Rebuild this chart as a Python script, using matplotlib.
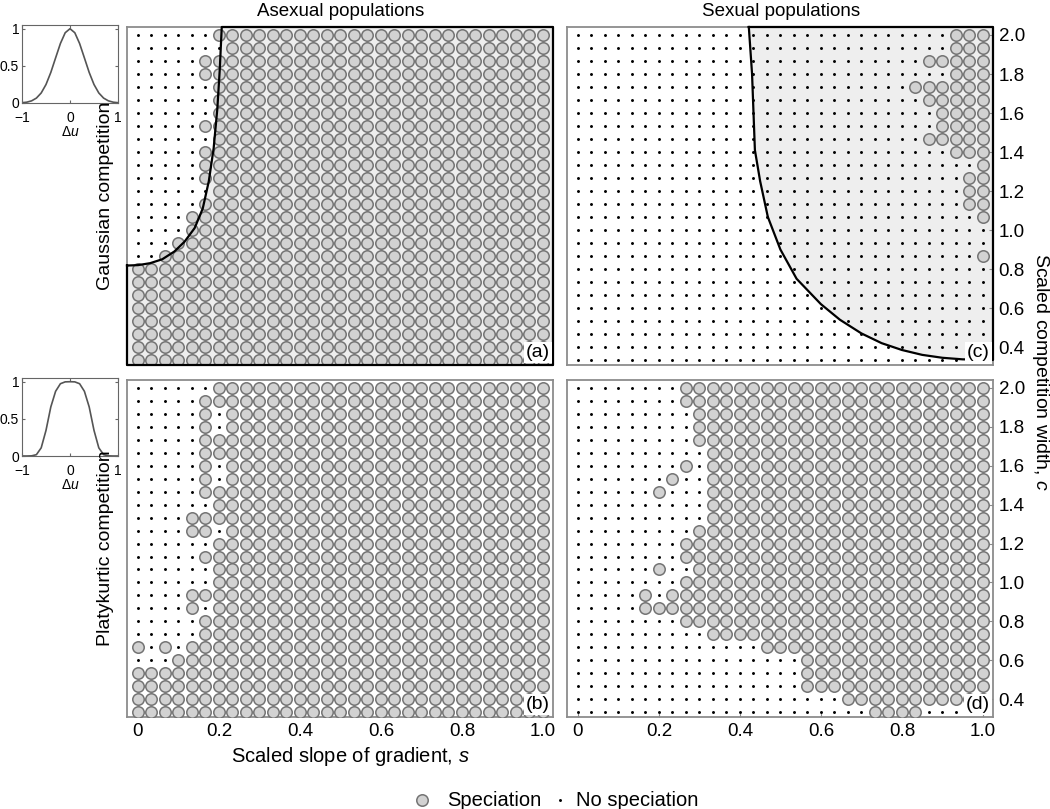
import numpy as np
import matplotlib
matplotlib.use("Agg")
import matplotlib.pyplot as plt
from matplotlib.patches import Polygon

plt.rcParams['font.family'] = ['Liberation Sans', 'DejaVu Sans']
plt.rcParams['mathtext.fontset'] = 'custom'
plt.rcParams['mathtext.it'] = 'Liberation Sans:italic'
plt.rcParams['mathtext.rm'] = 'Liberation Sans'

# ---------------- data ----------------
s_grid = np.linspace(0.0, 1.0, 31)                 # scaled slope of gradient
c_grid = np.round(2.0 - np.arange(26) / 15.0, 4)   # scaled competition width (top row first)

O, D = "o", "."
panel_a = [
    D*6 + O*25, D*7 + O*24, D*5 + O*26, D*5 + O*26, D*6 + O*25, D*6 + O*25,
    D*6 + O*25, D*5 + O*26, D*6 + O*25, D*5 + O*26, D*5 + O*26, D*5 + O*26,
    D*6 + O*25, D*5 + O*26, D*4 + O*27, D*4 + O*27, D*3 + O*28, D*2 + O*29,
    O*31, O*31, O*31, O*31, O*31, O*31, O*31, O*31,
]
panel_b = [
    D*6 + O*25, D*5 + O*26, D*5 + "o." + O*24, D*5 + "o." + O*24, D*5 + O*26, D*5 + O*26,
    D*5 + "o." + O*24, D*5 + "o." + O*24, D*5 + O*26, D*6 + O*25, D*4 + O*27, D*4 + "oo." + O*24,
    D*6 + O*25, D*5 + O*26, D*6 + O*25, D*6 + O*25, D*4 + O*27, D*4 + "o." + O*25,
    D*5 + O*26, D*5 + O*26, "o.o." + O*27, D*3 + O*28, O*31, O*31, O*31, O*31,
]
panel_c = [
    D*28 + O*3, D*28 + O*3, D*26 + O*5, D*28 + O*3, D*25 + O*6, D*26 + O*5,
    D*27 + O*4, D*27 + O*4, D*26 + O*5, D*28 + O*3, D*30 + O, D*29 + O*2,
    D*29 + O*2, D*29 + O*2, D*30 + O, D*31, D*31, D*30 + O,
    D*31, D*31, D*31, D*31, D*31, D*31, D*31, D*31,
]
panel_d = [
    D*8 + O*23, D*8 + O*23, D*9 + O*22, D*9 + O*22, D*9 + O*22, D*10 + O*21,
    D*8 + "o." + O*21, D*7 + "o.." + O*21, D*6 + "o..." + O*21, D*10 + O*21, D*10 + O*21, D*9 + O*22,
    D*8 + O*23, D*8 + O*23, D*6 + "o.." + O*22, D*8 + O*23, D*5 + "o." + O*24, D*5 + O*26,
    D*8 + O*23, D*10 + O*21, D*14 + O*17, D*17 + O*14, D*17 + O*14, D*17 + O*14, D*20 + O*11, D*22 + O*4 + D*5,
]

# analytical thresholds: (s, c)
asex_curve_s = [-0.027, 0.0, 0.03, 0.06, 0.09, 0.115, 0.14, 0.16, 0.175, 0.187, 0.196, 0.202, 0.207]
asex_curve_c = [0.818, 0.82, 0.83, 0.85, 0.89, 0.94, 1.01, 1.11, 1.25, 1.42, 1.62, 1.82, 2.041]
sex_curve_s = [0.422, 0.43, 0.437, 0.45, 0.469, 0.5, 0.54, 0.6, 0.647, 0.7, 0.75, 0.8, 0.85, 0.9, 0.95]
sex_curve_c = [2.041, 1.8, 1.41, 1.25, 1.067, 0.9, 0.75, 0.62, 0.54, 0.47, 0.42, 0.385, 0.36, 0.345, 0.337]

# competition kernels (insets)
du = np.round(np.linspace(-1, 1, 21), 2)
gauss_k = [0.004, 0.011, 0.029, 0.066, 0.135, 0.249, 0.411, 0.607, 0.801, 0.946, 1.0,
           0.946, 0.801, 0.607, 0.411, 0.249, 0.135, 0.066, 0.029, 0.011, 0.004]
platy_k = [0.0, 0.0, 0.002, 0.018, 0.11, 0.345, 0.66, 0.871, 0.973, 0.998, 1.0,
           0.998, 0.973, 0.871, 0.66, 0.345, 0.11, 0.018, 0.002, 0.0, 0.0]

x_ticks = [0, 0.2, 0.4, 0.6, 0.8, 1.0]
x_ticklabels = ["0", "0.2", "0.4", "0.6", "0.8", "1.0"]
y_ticks = [0.4, 0.6, 0.8, 1.0, 1.2, 1.4, 1.6, 1.8, 2.0]
legend_labels = ["Speciation", "No speciation"]

# ---------------- figure ----------------
W, H = 1050, 809
fig = plt.figure(figsize=(W/100, H/100), dpi=100)

def fx(px): return px / W
def fy(py): return 1 - py / H

XMIN, XMAX = -0.027, 1.025
YMIN, YMAX = 0.308, 2.041
GRID = "#8c8c8c"
FILL = "#eeeeee"
CIRC_FACE = "#d2d2d2"
CIRC_EDGE = "#747474"

def make_ax(left_px, top_px, right_px, bottom_px):
    ax = fig.add_axes([fx(left_px), fy(bottom_px), fx(right_px - left_px), (bottom_px - top_px) / H])
    ax.set_xlim(XMIN, XMAX)
    ax.set_ylim(YMIN, YMAX)
    for sp in ax.spines.values():
        sp.set_color(GRID)
        sp.set_linewidth(1.3)
    ax.set_xticks(x_ticks)
    ax.set_yticks(y_ticks)
    ax.tick_params(direction="in", length=3, color=GRID, labelsize=13.5, pad=4,
                   bottom=False, left=False, top=False, right=False,
                   labelbottom=False, labelleft=False)
    return ax

def draw_grid(ax, pattern):
    ss, cs, sd, cd = [], [], [], []
    for j, row in enumerate(pattern):
        for k, ch in enumerate(row):
            if ch == "o":
                ss.append(s_grid[k]); cs.append(c_grid[j])
            else:
                sd.append(s_grid[k]); cd.append(c_grid[j])
    ax.scatter(ss, cs, s=68, facecolor=CIRC_FACE, edgecolor=CIRC_EDGE, linewidth=1.1, zorder=3)
    ax.scatter(sd, cd, s=4.5, color="black", linewidth=0, zorder=3)

def panel_label(ax, txt):
    ax.text(0.993, 0.012, txt, transform=ax.transAxes, ha="right", va="bottom", fontsize=14,
            zorder=6, bbox=dict(facecolor="white", edgecolor="none", pad=1.5))

ax_a = make_ax(127, 27, 553, 365)
ax_b = make_ax(127, 380, 553, 717)
ax_c = make_ax(567, 27, 993, 365)
ax_d = make_ax(567, 380, 993, 717)

# shaded regions
poly_a = list(zip(asex_curve_s, asex_curve_c)) + [(XMAX, YMAX), (XMAX, YMIN), (XMIN, YMIN)]
ax_a.add_patch(Polygon(poly_a, closed=True, facecolor=FILL, edgecolor="none", zorder=1))
ax_a.plot(asex_curve_s + [XMAX, XMAX, XMIN, XMIN], asex_curve_c + [YMAX, YMIN, YMIN, asex_curve_c[0]],
          color="black", lw=1.6, zorder=4, clip_on=False)

poly_c = list(zip(sex_curve_s, sex_curve_c)) + [(XMAX, 0.334), (XMAX, YMAX)]
ax_c.add_patch(Polygon(poly_c, closed=True, facecolor=FILL, edgecolor="none", zorder=1))
ax_c.plot(sex_curve_s + [XMAX, XMAX, sex_curve_s[0]], sex_curve_c + [0.334, YMAX, YMAX],
          color="black", lw=1.6, zorder=4, clip_on=False)

draw_grid(ax_a, panel_a)
draw_grid(ax_b, panel_b)
draw_grid(ax_c, panel_c)
draw_grid(ax_d, panel_d)

for ax, t in [(ax_a, "(a)"), (ax_b, "(b)"), (ax_c, "(c)"), (ax_d, "(d)")]:
    panel_label(ax, t)

# ticks
for ax in (ax_b, ax_d):
    ax.tick_params(bottom=True, labelbottom=True)
    ax.set_xticklabels(x_ticklabels)
for ax in (ax_c, ax_d):
    ax.tick_params(right=True, labelright=True)
    ax.set_yticklabels([f"{v:.1f}" for v in y_ticks])

# text labels
fig.text(fx(341), fy(11), "Asexual populations", ha="center", va="center", fontsize=13.5)
fig.text(fx(781), fy(11), "Sexual populations", ha="center", va="center", fontsize=13.5)
fig.text(fx(106), fy(196), "Gaussian competition", rotation=90, ha="center", va="center", fontsize=14)
fig.text(fx(106), fy(548), "Platykurtic competition", rotation=90, ha="center", va="center", fontsize=14)
fig.text(fx(1040), fy(372), "Scaled competition width, $c$", rotation=270, ha="center", va="center", fontsize=14)
fig.text(fx(350), fy(757), "Scaled slope of gradient, $s$", ha="center", va="center", fontsize=14.5)

# insets
for top_px, kern in [(25, gauss_k), (378, platy_k)]:
    axi = fig.add_axes([fx(22), fy(top_px + 78), fx(96), 78 / H])
    axi.plot(du, kern, color="#555555", lw=1.2)
    axi.set_xlim(-1, 1)
    axi.set_ylim(0, 1.05)
    axi.set_xticks([-1, 0, 1])
    axi.set_yticks([0, 0.5, 1])
    axi.set_xticklabels(["\u22121", "0", "1"])
    axi.set_yticklabels(["0", "0.5", "1"])
    axi.tick_params(axis="x", pad=6)
    axi.tick_params(axis="y", pad=2)
    axi.tick_params(direction="in", length=2.5, labelsize=10, top=True, right=True, color="#666666")
    for sp in axi.spines.values():
        sp.set_color("#666666")
    axi.set_xlabel("\u0394$u$", fontsize=10, labelpad=0)

# legend (drawn by hand in figure coordinates)
leg = fig.add_axes([0, 0, 1, 1], facecolor="none")
leg.set_xlim(0, W)
leg.set_ylim(H, 0)
leg.axis("off")
leg.scatter([422], [800], s=68, facecolor=CIRC_FACE, edgecolor=CIRC_EDGE, linewidth=1.1)
leg.scatter([560], [800], s=4.5, color="black", linewidth=0)
leg.text(447, 800, legend_labels[0], ha="left", va="center", fontsize=14.5)
leg.text(576, 800, legend_labels[1], ha="left", va="center", fontsize=14.5)

fig.savefig("out.png", dpi=100)
